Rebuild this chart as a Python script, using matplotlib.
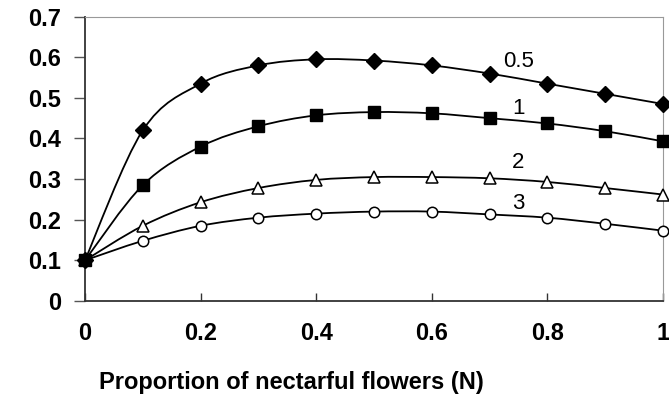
import matplotlib
matplotlib.use("Agg")
import matplotlib.pyplot as plt
from matplotlib.path import Path
from matplotlib.patches import PathPatch

plt.rcParams["font.family"] = ["Liberation Sans", "DejaVu Sans"]

# ---------------------------------------------------------------------------
# DATA
# ---------------------------------------------------------------------------
n_values = [0.0, 0.1, 0.2, 0.3, 0.4, 0.5, 0.6, 0.7, 0.8, 0.9, 1.0]

series_05 = [0.10, 0.42, 0.535, 0.58, 0.595, 0.592, 0.58, 0.56, 0.535, 0.51, 0.485]
series_1 = [0.10, 0.285, 0.38, 0.43, 0.457, 0.465, 0.462, 0.45, 0.437, 0.418, 0.393]
series_2 = [0.10, 0.185, 0.243, 0.278, 0.298, 0.305, 0.305, 0.302, 0.293, 0.278, 0.262]
series_3 = [0.10, 0.148, 0.185, 0.205, 0.215, 0.22, 0.22, 0.213, 0.205, 0.19, 0.173]

series_labels = ["0.5", "1", "2", "3"]
label_y = [0.59, 0.475, 0.34, 0.24]
label_x = 0.75

x_ticks = [0, 0.2, 0.4, 0.6, 0.8, 1]
x_tick_labels = ["0", "0.2", "0.4", "0.6", "0.8", "1"]
y_ticks = [0, 0.1, 0.2, 0.3, 0.4, 0.5, 0.6, 0.7]
y_tick_labels = ["0", "0.1", "0.2", "0.3", "0.4", "0.5", "0.6", "0.7"]


def smooth_path(xs, ys, tension=6.0):
    """Excel-style smoothed line as cubic Bezier segments through the points."""
    verts = [(xs[0], ys[0])]
    codes = [Path.MOVETO]
    n = len(xs)
    for i in range(n - 1):
        x0, y0 = (xs[i - 1], ys[i - 1]) if i > 0 else (xs[i], ys[i])
        x1, y1 = xs[i], ys[i]
        x2, y2 = xs[i + 1], ys[i + 1]
        x3, y3 = (xs[i + 2], ys[i + 2]) if i + 2 < n else (x2, y2)
        c1 = (x1 + (x2 - x0) / tension, y1 + (y2 - y0) / tension)
        c2 = (x2 - (x3 - x1) / tension, y2 - (y3 - y1) / tension)
        verts += [c1, c2, (x2, y2)]
        codes += [Path.CURVE4] * 3
    return Path(verts, codes)


fig = plt.figure(figsize=(6.69, 3.97), dpi=100)
ax = fig.add_axes([0.127, 0.242, 0.864, 0.716])

# square markers sit on top where the series meet at N = 0
styles = [
    dict(marker="D", ms=8, mfc="black", mec="black", zorder=4),
    dict(marker="s", ms=8, mfc="black", mec="black", zorder=6),
    dict(marker="^", ms=9, mfc="white", mec="black", mew=1.1, zorder=5),
    dict(marker="o", ms=7.5, mfc="white", mec="black", mew=1.1, zorder=4),
]

for ys, st in zip([series_05, series_1, series_2, series_3], styles):
    ax.add_patch(PathPatch(smooth_path(n_values, ys), fill=False,
                           edgecolor="black", lw=1.3, zorder=2))
    ax.plot(n_values, ys, ls="none", clip_on=False, **st)

for lab, ly in zip(series_labels, label_y):
    ax.text(label_x, ly, lab, fontsize=16, ha="center", va="center")

ax.set_xlim(0, 1)
ax.set_ylim(0, 0.7)
ax.set_xticks(x_ticks)
ax.set_xticklabels(x_tick_labels, fontsize=17, fontweight="bold")
ax.set_yticks(y_ticks)
ax.set_yticklabels(y_tick_labels, fontsize=17, fontweight="bold")
ax.tick_params(axis="x", direction="in", length=6, width=1, color="#333333", pad=15)
ax.tick_params(axis="y", direction="out", length=8, width=1, color="#555555", pad=9)

ax.spines["left"].set_color("#333333")
ax.spines["bottom"].set_color("#333333")
ax.spines["left"].set_linewidth(1.3)
ax.spines["bottom"].set_linewidth(1.3)
ax.spines["top"].set_color("#999999")
ax.spines["right"].set_color("#999999")

# the axis title sits left of the plot centre in the original
fig.text(291 / 669, 1 - 382 / 397, "Proportion of nectarful flowers (N)",
         fontsize=17, fontweight="bold", ha="center", va="center")

fig.savefig("out.png", dpi=100)
